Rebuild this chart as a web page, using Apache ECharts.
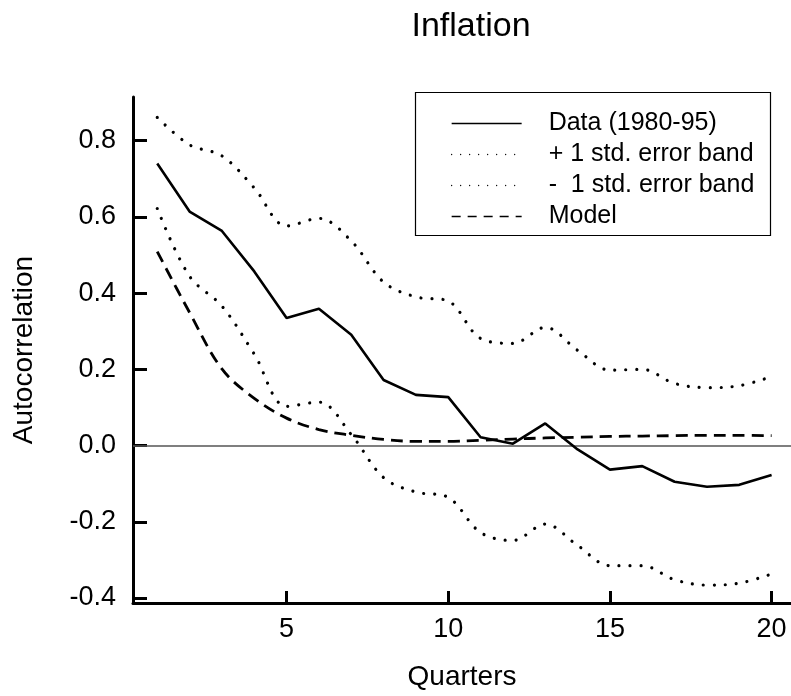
<!DOCTYPE html>
<html>
<head>
<meta charset="utf-8">
<script src="https://cdn.jsdelivr.net/npm/echarts@6/dist/echarts.min.js"></script>
<style>html,body{margin:0;padding:0;background:#fff}#c{width:791px;height:696px}</style>
</head>
<body>
<div id="c"></div>
<script>
// ---- data ----
const quarters = [1,2,3,4,5,6,7,8,9,10,11,12,13,14,15,16,17,18,19,20];
const dataVals = [0.740,0.614,0.563,0.457,0.335,0.359,0.291,0.172,0.133,0.127,0.022,0.005,0.058,-0.010,-0.063,-0.054,-0.095,-0.108,-0.103,-0.077];
const upperBand = [0.861,0.789,0.760,0.676,0.576,0.596,0.537,0.429,0.390,0.379,0.281,0.268,0.310,0.250,0.198,0.200,0.163,0.152,0.157,0.181];
const lowerBand = [0.622,0.444,0.366,0.240,0.103,0.114,0.029,-0.084,-0.122,-0.136,-0.228,-0.249,-0.206,-0.262,-0.315,-0.315,-0.352,-0.366,-0.361,-0.337];
const modelVals = [0.509,0.349,0.201,0.124,0.072,0.042,0.027,0.016,0.011,0.011,0.014,0.017,0.020,0.022,0.024,0.025,0.026,0.027,0.027,0.026];
const xTicks = [5,10,15,20];
const yTicks = [-0.4,-0.2,0.0,0.2,0.4,0.6,0.8];
const seriesNames = ['Data (1980-95)','+ 1 std. error band','-  1 std. error band','Model'];

const pair = (vals) => quarters.map((q,i) => [q, vals[i]]);
const FONT = '"Liberation Sans", Arial, sans-serif';

const chart = echarts.init(document.getElementById('c'), null, {renderer:'canvas'});
const dotted = {color:'#000', width:3.2, type:[0.001, 11], cap:'round'};
const hiddenSymbol = {opacity: 0, color: 'rgba(0,0,0,0)', borderWidth: 0};
chart.setOption({
  animation: false,
  backgroundColor: '#fff',
  title: {
    text: 'Inflation', left: 466, top: 5, textAlign: 'center',
    textStyle: {fontFamily: FONT, fontSize: 34, fontWeight: 'normal', color: '#000'}
  },
  grid: {left: 133, top: 97, width: 658, height: 509, containLabel: false},
  legend: {
    orient: 'vertical', left: 446, top: 106,
    itemWidth: 70, itemHeight: 14, itemGap: 6,
    textStyle: {fontFamily: FONT, fontSize: 25, color: '#000', lineHeight: 25, padding: [0,0,0,22]},
    data: [
      {name: seriesNames[0], itemStyle: hiddenSymbol, lineStyle: {color:'#000', width: 1.3}},
      {name: seriesNames[1], itemStyle: hiddenSymbol, lineStyle: {color:'#000', width: 1.3, type:[0.001, 9]}},
      {name: seriesNames[2], itemStyle: hiddenSymbol, lineStyle: {color:'#000', width: 1.3, type:[0.001, 9]}},
      {name: seriesNames[3], itemStyle: hiddenSymbol, lineStyle: {color:'#000', width: 1.3, type:[9, 7], cap:'butt'}}
    ]
  },
  graphic: [{
    type: 'rect', z: 1, silent: true,
    shape: {x: 415.5, y: 92.5, width: 355, height: 143},
    style: {fill: 'none', stroke: '#000', lineWidth: 1.2}
  }],
  xAxis: {
    type: 'value', min: 0.25, max: 20.6,
    name: 'Quarters', nameLocation: 'middle', nameGap: 60,
    nameTextStyle: {fontFamily: FONT, fontSize: 28, color: '#000'},
    axisLine: {show: true, onZero: false, lineStyle: {color: '#000', width: 3}},
    axisTick: {show: true, inside: true, length: 12, customValues: xTicks, lineStyle: {color:'#000', width: 3}},
    axisLabel: {customValues: xTicks, fontFamily: FONT, fontSize: 27, color: '#000', margin: 13},
    splitLine: {show: false}
  },
  yAxis: {
    type: 'value', min: -0.413, max: 0.9145,
    name: 'Autocorrelation', nameLocation: 'middle', nameGap: 95, nameRotate: 90,
    nameTextStyle: {fontFamily: FONT, fontSize: 28, color: '#000'},
    axisLine: {show: true, onZero: false, lineStyle: {color: '#000', width: 3}},
    axisTick: {show: true, inside: true, length: 14, customValues: yTicks, lineStyle: {color:'#000', width: 3}},
    axisLabel: {customValues: yTicks, fontFamily: FONT, fontSize: 27, color: '#000', margin: 17,
      formatter: v => Number(v).toFixed(1)},
    splitLine: {show: false}
  },
  series: [
    {name: seriesNames[0], type: 'line', data: pair(dataVals), symbol: 'none',
     lineStyle: {color:'#000', width: 2.6}, itemStyle: {color:'#000'}, z: 5,
     markLine: {silent: true, symbol: 'none', label: {show: false},
       lineStyle: {color: '#555', width: 1.5, type: 'solid'}, data: [{yAxis: 0}]}},
    {name: seriesNames[1], type: 'line', data: pair(upperBand), symbol: 'none', smooth: 0.35,
     lineStyle: dotted, itemStyle: {color:'#000'}},
    {name: seriesNames[2], type: 'line', data: pair(lowerBand), symbol: 'none', smooth: 0.35,
     lineStyle: dotted, itemStyle: {color:'#000'}},
    {name: seriesNames[3], type: 'line', data: pair(modelVals), symbol: 'none', smooth: 0.35,
     lineStyle: {color:'#000', width: 2.8, type: [12, 7]}, itemStyle: {color:'#000'}}
  ]
});
</script>
</body>
</html>
